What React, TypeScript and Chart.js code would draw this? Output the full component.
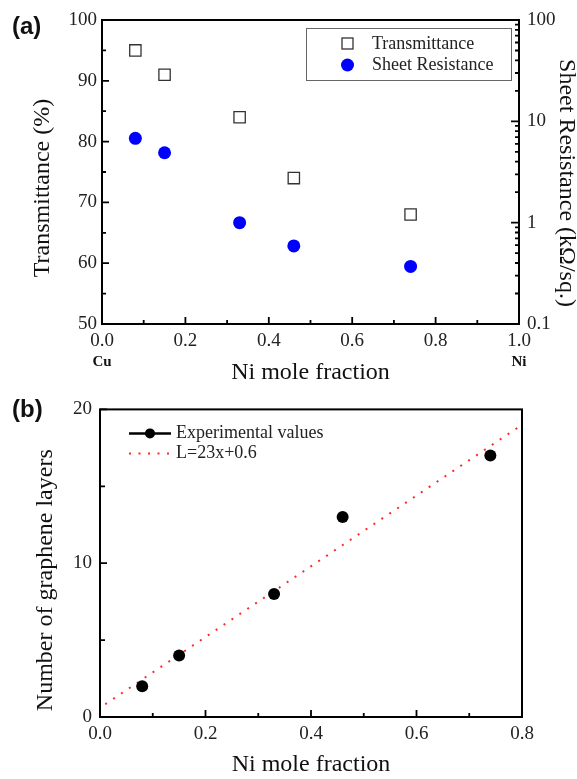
import React, { useEffect, useRef } from "react";
import { Chart, registerables } from "chart.js";

Chart.register(...registerables);

// ---------- data ----------
const niFraction = [0.08, 0.15, 0.33, 0.46, 0.74];
const transmittance = [95, 91, 84, 74, 68];
const sheetResistance = [6.8, 4.9, 1.0, 0.59, 0.37];
const grapheneLayers = [2, 4, 8, 13, 17];
const fitX = [0.01, 0.8];
const fitY = [0.83, 19.0];

// ---------- ticks ----------
const aXMajor = [0, 0.2, 0.4, 0.6, 0.8, 1.0];
const aXMinor = [0.1, 0.3, 0.5, 0.7, 0.9];
const aYMajor = [50, 60, 70, 80, 90, 100];
const aYMinor = [55, 65, 75, 85, 95];
const aY1Major = [0.1, 1, 10, 100];
const aY1Decades = [0.1, 1, 10];
const bXMajor = [0, 0.2, 0.4, 0.6, 0.8];
const bXMinor = [0.1, 0.3, 0.5, 0.7];
const bYMajor = [0, 10, 20];
const bYMinor = [5, 15];

const SERIF = "'Liberation Serif', 'Times New Roman', serif";
const SANS = "'Liberation Sans', Arial, sans-serif";

const fixedTicks = (values: number[]) => (scale: any) => {
  scale.ticks = values.map((v) => ({ value: v }));
};

function drawFrame(ctx: CanvasRenderingContext2D, a: any) {
  ctx.save();
  ctx.strokeStyle = "#000";
  ctx.lineWidth = 2;
  ctx.strokeRect(a.left, a.top, a.right - a.left, a.bottom - a.top);
  ctx.restore();
}

function drawInTicks(chart: any, scaleId: string, side: string, values: number[], len: number) {
  const ctx = chart.ctx as CanvasRenderingContext2D;
  const s = chart.scales[scaleId];
  const a = chart.chartArea;
  ctx.save();
  ctx.strokeStyle = "#000";
  ctx.lineWidth = 1.8;
  ctx.beginPath();
  values.forEach((v) => {
    const p = s.getPixelForValue(v);
    if (side === "bottom") {
      ctx.moveTo(p, a.bottom);
      ctx.lineTo(p, a.bottom - len);
    } else if (side === "left") {
      ctx.moveTo(a.left, p);
      ctx.lineTo(a.left + len, p);
    } else {
      ctx.moveTo(a.right, p);
      ctx.lineTo(a.right - len, p);
    }
  });
  ctx.stroke();
  ctx.restore();
}

function drawVTitle(ctx: CanvasRenderingContext2D, text: string, x: number, y: number, rot: number) {
  ctx.save();
  ctx.translate(x, y);
  ctx.rotate(rot);
  ctx.font = `24px ${SERIF}`;
  ctx.fillStyle = "#111";
  ctx.textAlign = "center";
  ctx.textBaseline = "middle";
  ctx.fillText(text, 0, 0);
  ctx.restore();
}

const panelAPlugin = {
  id: "panelA",
  afterDatasetsDraw(chart: any) {
    const ctx = chart.ctx as CanvasRenderingContext2D;
    const a = chart.chartArea;
    drawFrame(ctx, a);
    drawInTicks(chart, "x", "bottom", aXMajor, 7);
    drawInTicks(chart, "x", "bottom", aXMinor, 4);
    drawInTicks(chart, "y", "left", aYMajor, 7);
    drawInTicks(chart, "y", "left", aYMinor, 4);
    drawInTicks(chart, "y1", "right", aY1Major, 8);
    const logMinor: number[] = [];
    aY1Decades.forEach((d) => {
      for (let m = 2; m <= 9; m++) logMinor.push(d * m);
    });
    drawInTicks(chart, "y1", "right", logMinor, 4);

    const midY = (a.top + a.bottom) / 2;
    drawVTitle(ctx, "Transmittance (%)", 43, midY + 16, -Math.PI / 2);
    drawVTitle(ctx, "Sheet Resistance (kΩ/sq.)", 566, midY + 11, Math.PI / 2);

    // legend box
    ctx.save();
    const bx = a.right - 213;
    const by = a.top + 8;
    ctx.strokeStyle = "#666";
    ctx.lineWidth = 1;
    ctx.strokeRect(bx + 0.5, by + 0.5, 205, 52);
    const ds = chart.data.datasets;
    ctx.font = `18px ${SERIF}`;
    ctx.fillStyle = "#222";
    ctx.textBaseline = "middle";
    ctx.textAlign = "left";
    // row 1: open square
    ctx.strokeStyle = "#333";
    ctx.lineWidth = 1.3;
    ctx.strokeRect(bx + 36, by + 10, 11, 11);
    ctx.fillText(ds[0].label, bx + 66, by + 16);
    // row 2: blue circle
    ctx.fillStyle = "#0000ff";
    ctx.beginPath();
    ctx.arc(bx + 41.5, by + 37, 6.5, 0, Math.PI * 2);
    ctx.fill();
    ctx.fillStyle = "#222";
    ctx.fillText(ds[1].label, bx + 66, by + 37);

    // (a) label
    ctx.fillStyle = "#111";
    ctx.font = `bold 24px ${SANS}`;
    ctx.fillText("(a)", 12, 27);

    // Cu / Ni
    ctx.font = `bold 15px ${SERIF}`;
    ctx.textAlign = "center";
    const xs = chart.scales.x;
    ctx.fillText("Cu", xs.getPixelForValue(0), 362);
    ctx.fillText("Ni", xs.getPixelForValue(1), 362);
    ctx.restore();
  },
};

const panelBPlugin = {
  id: "panelB",
  afterDatasetsDraw(chart: any) {
    const ctx = chart.ctx as CanvasRenderingContext2D;
    const a = chart.chartArea;
    drawFrame(ctx, a);
    drawInTicks(chart, "x", "bottom", bXMajor, 7);
    drawInTicks(chart, "x", "bottom", bXMinor, 4);
    drawInTicks(chart, "y", "left", bYMajor, 7);
    drawInTicks(chart, "y", "left", bYMinor, 5);

    const midY = (a.top + a.bottom) / 2;
    drawVTitle(ctx, "Number of graphene layers", 46, midY + 17, -Math.PI / 2);

    const ds = chart.data.datasets;
    ctx.save();
    const lx0 = a.left + 29;
    const lx1 = a.left + 71;
    const r1 = a.top + 24;
    const r2 = a.top + 44;
    // row 1
    ctx.strokeStyle = "#000";
    ctx.lineWidth = 2.5;
    ctx.beginPath();
    ctx.moveTo(lx0, r1);
    ctx.lineTo(lx1, r1);
    ctx.stroke();
    ctx.fillStyle = "#000";
    ctx.beginPath();
    ctx.arc((lx0 + lx1) / 2, r1, 5, 0, Math.PI * 2);
    ctx.fill();
    // row 2
    ctx.strokeStyle = "rgb(255,40,40)";
    ctx.lineWidth = 2;
    ctx.setLineDash([2, 7.5]);
    ctx.beginPath();
    ctx.moveTo(lx0, r2);
    ctx.lineTo(lx1, r2);
    ctx.stroke();
    ctx.setLineDash([]);
    ctx.font = `18px ${SERIF}`;
    ctx.fillStyle = "#222";
    ctx.textBaseline = "middle";
    ctx.textAlign = "left";
    ctx.fillText(ds[0].label, a.left + 76, r1);
    ctx.fillText(ds[1].label, a.left + 76, r2);

    ctx.fillStyle = "#111";
    ctx.font = `bold 24px ${SANS}`;
    ctx.fillText("(b)", 12, 20);
    ctx.restore();
  },
};

const tickFont = { family: SERIF, size: 19 };
const titleFont = { family: SERIF, size: 24 };

function makeA(canvas: HTMLCanvasElement) {
  return new Chart(canvas, {
    type: "scatter",
    data: {
      datasets: [
        {
          label: "Transmittance",
          data: niFraction.map((x, i) => ({ x, y: transmittance[i] })),
          yAxisID: "y",
          pointStyle: "rect",
          pointRadius: 8,
          backgroundColor: "rgba(255,255,255,0)",
          borderColor: "#333",
          borderWidth: 1.3,
          showLine: false,
        },
        {
          label: "Sheet Resistance",
          data: niFraction.map((x, i) => ({ x, y: sheetResistance[i] })),
          yAxisID: "y1",
          pointStyle: "circle",
          pointRadius: 6.5,
          backgroundColor: "#0000ff",
          borderColor: "#0000ff",
          borderWidth: 0,
          showLine: false,
        },
      ],
    },
    options: {
      animation: false,
      responsive: false,
      layout: { padding: { top: 20, left: 0, right: 0, bottom: 0 } },
      plugins: { legend: { display: false }, tooltip: { enabled: false } },
      scales: {
        x: {
          type: "linear",
          position: "bottom",
          min: 0,
          max: 1,
          afterBuildTicks: fixedTicks(aXMajor),
          afterFit: (s: any) => {
            s.height = 66;
          },
          grid: { display: false, drawTicks: false },
          border: { display: false },
          ticks: {
            padding: 6,
            font: tickFont,
            color: "#222",
            callback: (v: any) => Number(v).toFixed(1),
          },
          title: {
            display: true,
            text: "Ni mole fraction",
            font: titleFont,
            color: "#111",
            padding: { top: 0, bottom: 3 },
          },
        },
        y: {
          type: "linear",
          position: "left",
          min: 50,
          max: 100,
          afterBuildTicks: fixedTicks(aYMajor),
          afterFit: (s: any) => {
            s.width = 102;
          },
          grid: { display: false, drawTicks: false },
          border: { display: false },
          ticks: { padding: 5, font: tickFont, color: "#222" },
          title: { display: false },
        },
        y1: {
          type: "logarithmic",
          position: "right",
          min: 0.1,
          max: 100,
          afterBuildTicks: fixedTicks(aY1Major),
          afterFit: (s: any) => {
            s.width = 58;
          },
          grid: { display: false, drawTicks: false },
          border: { display: false },
          ticks: {
            padding: 8,
            font: tickFont,
            color: "#222",
            callback: (v: any) => String(v),
          },
          title: { display: false },
        },
      },
    },
    plugins: [panelAPlugin],
  } as any);
}

function makeB(canvas: HTMLCanvasElement) {
  return new Chart(canvas, {
    type: "scatter",
    data: {
      datasets: [
        {
          label: "Experimental values",
          data: niFraction.map((x, i) => ({ x, y: grapheneLayers[i] })),
          pointStyle: "circle",
          pointRadius: 6,
          backgroundColor: "#000",
          borderColor: "#000",
          borderWidth: 0,
          showLine: false,
        },
        {
          label: "L=23x+0.6",
          data: fitX.map((x, i) => ({ x, y: fitY[i] })),
          showLine: true,
          borderColor: "rgb(255,40,40)",
          borderWidth: 2,
          borderDash: [2, 7.5],
          pointRadius: 0,
          fill: false,
        },
      ],
    },
    options: {
      animation: false,
      responsive: false,
      layout: { padding: { top: 19, left: 0, right: 55, bottom: 0 } },
      plugins: { legend: { display: false }, tooltip: { enabled: false } },
      scales: {
        x: {
          type: "linear",
          position: "bottom",
          min: 0,
          max: 0.8,
          afterBuildTicks: fixedTicks(bXMajor),
          afterFit: (s: any) => {
            s.height = 62;
          },
          grid: { display: false, drawTicks: false },
          border: { display: false },
          ticks: {
            padding: 6,
            font: tickFont,
            color: "#222",
            callback: (v: any) => Number(v).toFixed(1),
          },
          title: {
            display: true,
            text: "Ni mole fraction",
            font: titleFont,
            color: "#111",
            padding: { top: 0, bottom: 0 },
          },
        },
        y: {
          type: "linear",
          position: "left",
          min: 0,
          max: 20,
          afterBuildTicks: fixedTicks(bYMajor),
          afterFit: (s: any) => {
            s.width = 100;
          },
          grid: { display: false, drawTicks: false },
          border: { display: false },
          ticks: { padding: 8, font: tickFont, color: "#222" },
          title: { display: false },
        },
      },
    },
    plugins: [panelBPlugin],
  } as any);
}

export default function App() {
  const refA = useRef<HTMLCanvasElement | null>(null);
  const refB = useRef<HTMLCanvasElement | null>(null);

  useEffect(() => {
    const ca = makeA(refA.current!);
    const cb = makeB(refB.current!);
    return () => {
      ca.destroy();
      cb.destroy();
    };
  }, []);

  return (
    <div
      style={{
        position: "absolute",
        left: 0,
        top: 0,
        width: 577,
        height: 779,
        background: "#fff",
        overflow: "hidden",
      }}
    >
      <canvas ref={refA} width={577} height={390} style={{ display: "block", width: 577, height: 390 }} />
      <canvas ref={refB} width={577} height={389} style={{ display: "block", width: 577, height: 389 }} />
    </div>
  );
}
